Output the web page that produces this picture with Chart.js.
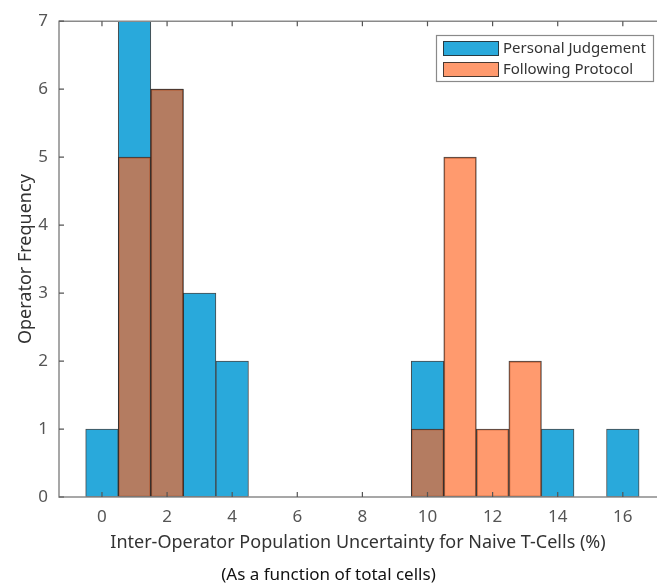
<!DOCTYPE html>
<html>
<head>
<meta charset="utf-8">
<script src="https://cdn.jsdelivr.net/npm/chart.js@4.4.1/dist/chart.umd.min.js"></script>
<style>
  html, body { margin: 0; padding: 0; background: #fff; overflow: hidden; }
  #wrap { width: 657px; height: 585px; position: relative; }
</style>
</head>
<body>
<div id="wrap"><canvas id="histChart"></canvas></div>
<script>
// histogram bins (centre of each bin, width 1)
const binCenters = [0, 1, 2, 3, 4, 5, 6, 7, 8, 9, 10, 11, 12, 13, 14, 15, 16];
// operator counts per bin
const personalJudgement = [1, 7, 6, 3, 2, 0, 0, 0, 0, 0, 2, 0, 0, 0, 1, 0, 1];
const followingProtocol = [0, 5, 6, 0, 0, 0, 0, 0, 0, 0, 1, 5, 1, 2, 0, 0, 0];
const seriesNames = ['Personal Judgement', 'Following Protocol'];
const xTicks = [0, 2, 4, 6, 8, 10, 12, 14, 16];
const yTicks = [0, 1, 2, 3, 4, 5, 6, 7];

const blueFill = 'rgb(41, 169, 219)';
const orangeFill = 'rgba(255, 100, 32, 0.65)';
const edgeColor = 'rgba(40, 40, 40, 0.85)';
const fontFam = '"Noto Sans", "Open Sans", sans-serif';

// build {x, y} points, leaving empty bins out
function toPoints(counts) {
    return binCenters.map((x, i) => ({ x: x, y: counts[i] > 0 ? counts[i] : null }));
}

// axes box with inward ticks, matlab style
const axesBox = {
    id: 'axesBox',
    afterDatasetsDraw(chart) {
        const { ctx, chartArea: a, scales } = chart;
        ctx.save();
        ctx.strokeStyle = '#8a8a8a';
        ctx.lineWidth = 1.5;
        ctx.beginPath();
        ctx.moveTo(a.right + 2, a.top);
        ctx.lineTo(a.left, a.top);
        ctx.lineTo(a.left, a.bottom);
        ctx.lineTo(a.right + 2, a.bottom);
        ctx.stroke();

        ctx.strokeStyle = '#555';
        ctx.lineWidth = 1.2;
        ctx.beginPath();
        xTicks.forEach(v => {
            const px = scales.x.getPixelForValue(v);
            ctx.moveTo(px, a.bottom);
            ctx.lineTo(px, a.bottom - 5);
            ctx.moveTo(px, a.top);
            ctx.lineTo(px, a.top + 5);
        });
        yTicks.forEach(v => {
            const py = scales.y.getPixelForValue(v);
            ctx.moveTo(a.left, py);
            ctx.lineTo(a.left + 5, py);
        });
        ctx.stroke();
        ctx.restore();
    }
};

// legend box in the upper right corner
const boxLegend = {
    id: 'boxLegend',
    afterDraw(chart) {
        const ctx = chart.ctx;
        const bx = 436.5, by = 35.5, bw = 217, bh = 46;
        ctx.save();
        ctx.fillStyle = '#fff';
        ctx.fillRect(bx, by, bw, bh);
        ctx.strokeStyle = '#8a8a8a';
        ctx.lineWidth = 1.2;
        ctx.strokeRect(bx, by, bw, bh);

        const fills = [blueFill, orangeFill];
        ctx.font = '15px ' + fontFam;
        ctx.textBaseline = 'middle';
        seriesNames.forEach((name, i) => {
            const sy = 41 + i * 21;
            ctx.fillStyle = fills[i];
            ctx.fillRect(443, sy, 56, 15);
            ctx.strokeStyle = edgeColor;
            ctx.lineWidth = 1;
            ctx.strokeRect(443.5, sy + 0.5, 55, 14);
            ctx.fillStyle = '#333';
            ctx.fillText(name, 503, sy + 7.5);
        });
        ctx.restore();
    }
};

const ctx = document.getElementById('histChart').getContext('2d');
const histChart = new Chart(ctx, {
    type: 'bar',
    data: {
        datasets: [{
            label: seriesNames[0],
            data: toPoints(personalJudgement),
            backgroundColor: blueFill,
            borderColor: edgeColor,
            borderWidth: 1,
            borderSkipped: false,
            order: 2
        }, {
            label: seriesNames[1],
            data: toPoints(followingProtocol),
            backgroundColor: orangeFill,
            borderColor: edgeColor,
            borderWidth: 1,
            borderSkipped: false,
            order: 1
        }]
    },
    options: {
        responsive: true,
        maintainAspectRatio: false,
        animation: false,
        layout: { padding: { top: 21, left: 0, right: 0, bottom: 0 } },
        datasets: {
            bar: { grouped: false, barPercentage: 1, categoryPercentage: 1 }
        },
        plugins: {
            legend: { display: false },
            tooltip: { enabled: false },
            subtitle: {
                display: true,
                position: 'bottom',
                text: '(As a function of total cells)',
                color: '#111',
                font: { family: fontFam, size: 17 },
                padding: { top: 10, bottom: 0 }
            }
        },
        scales: {
            x: {
                type: 'linear',
                offset: false,
                min: -1.32,
                max: 17.05,
                grid: { display: false, drawTicks: false, offset: false },
                border: { display: false },
                afterBuildTicks(scale) {
                    scale.ticks = xTicks.map(v => ({ value: v }));
                },
                afterFit(scale) { scale.height = 57.6; },
                ticks: {
                    color: '#555',
                    padding: 10,
                    font: { family: fontFam, size: 17 },
                    maxRotation: 0
                },
                title: {
                    display: true,
                    text: 'Inter-Operator Population Uncertainty for Naive T-Cells (%)',
                    color: '#333',
                    font: { family: fontFam, size: 18 },
                    padding: { top: 0, bottom: 1 }
                }
            },
            y: {
                min: 0,
                max: 7,
                grid: { display: false, drawTicks: false },
                border: { display: false },
                afterBuildTicks(scale) {
                    scale.ticks = yTicks.map(v => ({ value: v }));
                },
                afterFit(scale) { scale.width = 59; },
                ticks: {
                    color: '#555',
                    padding: 11,
                    font: { family: fontFam, size: 17 }
                },
                title: {
                    display: true,
                    text: 'Operator Frequency',
                    color: '#333',
                    font: { family: fontFam, size: 18 },
                    padding: { top: 15, bottom: 0 }
                }
            }
        }
    },
    plugins: [axesBox, boxLegend]
});
</script>
</body>
</html>
